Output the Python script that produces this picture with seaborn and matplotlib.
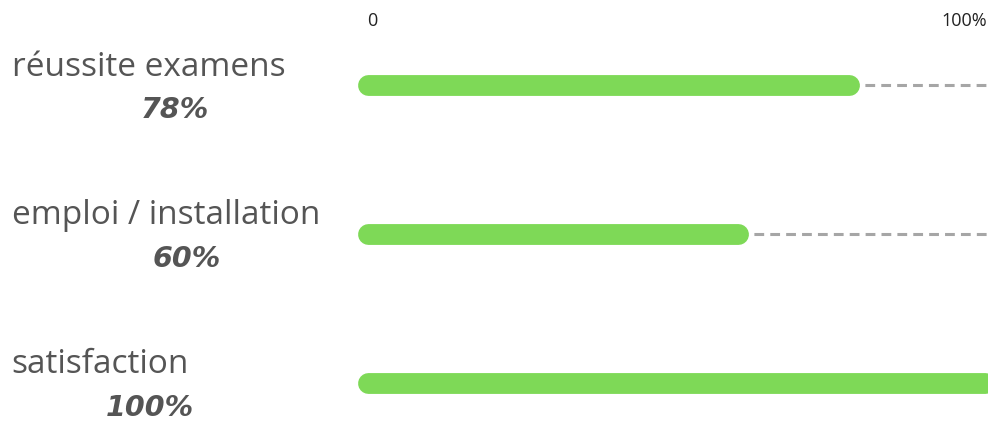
import matplotlib
matplotlib.use("Agg")
import matplotlib.pyplot as plt
import seaborn as sns

# data
categories = ["réussite examens", "emploi / installation", "satisfaction"]
values = [78, 60, 100]
value_labels = ["78%", "60%", "100%"]
axis_labels = ["0", "100%"]

GREEN = "#7ED957"
TEXT = "#555555"
DASH = "#a6a6a6"


def plot_rates():
    sns.set_style("white")
    plt.rcParams['font.family'] = ['Open Sans', 'DejaVu Sans']

    fig = plt.figure(figsize=(9.88, 4.23), dpi=100)
    ax = fig.add_axes([0, 0, 1, 1])

    # pixel mapping: 0 -> x=368, 100 -> x=985 ; rows at y=85, 232, 383
    ax.set_xlim(-59.6, 100.5)
    ax.set_ylim(2.27, -0.57)

    pct_x = [175, 187, 150]  # label centres in pixels
    for i, (cat, v, lab) in enumerate(zip(categories, values, value_labels)):
        if v < 100:
            ax.plot([v, 100.5], [i, i], color=DASH, lw=2.2,
                    linestyle=(0, (3.2, 2.0)), zorder=1)
        ax.plot([0, v], [i, i], color=GREEN, lw=15, solid_capstyle='round', zorder=2)

        ax.text(-57.7, i - 0.12, cat, fontsize=24, color=TEXT,
                ha='left', va='center')
        ax.text(-59.6 + pct_x[i] / 6.17, i + 0.17, lab, fontsize=20.5,
                family='DejaVu Sans', color=TEXT, fontstyle='oblique',
                fontweight='bold', ha='center', va='center')

    ax.text(0.8, -0.43, axis_labels[0], fontsize=13, color='#222222',
            ha='center', va='center')
    ax.text(100.4, -0.43, axis_labels[1], fontsize=13, color='#222222',
            ha='right', va='center')

    ax.axis('off')
    fig.savefig('out.png', dpi=100)


if __name__ == "__main__":
    plot_rates()
